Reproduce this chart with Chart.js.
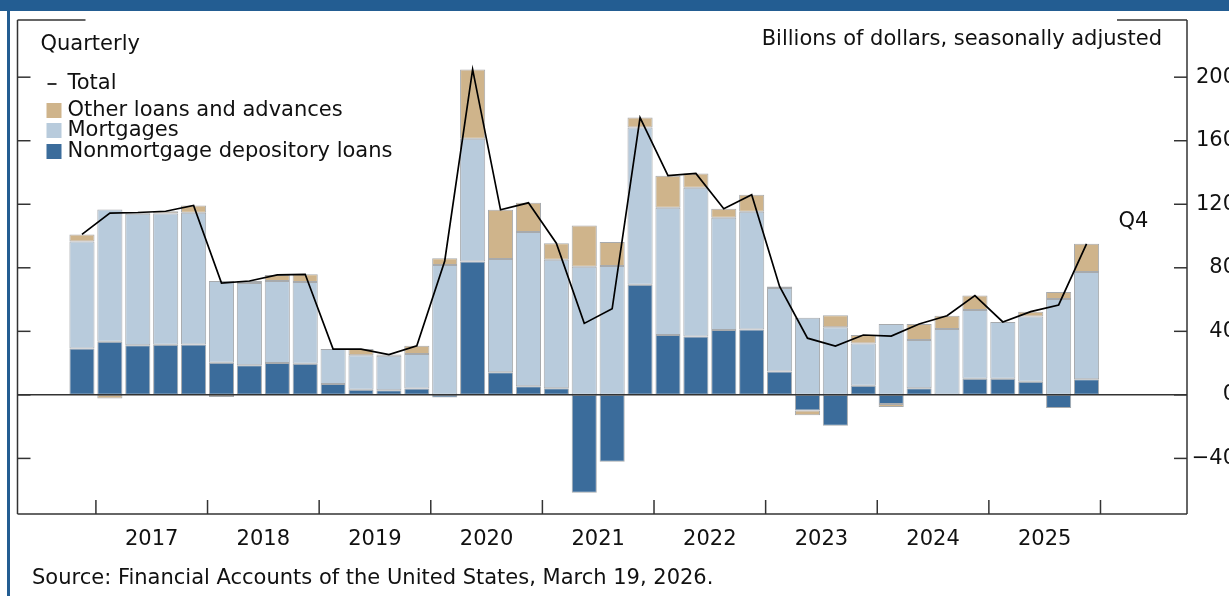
<!DOCTYPE html>
<html>
<head>
<meta charset="utf-8">
<script src="https://cdn.jsdelivr.net/npm/chart.js@4.4.1/dist/chart.umd.min.js"></script>
<style>
  html, body { margin: 0; padding: 0; background: #fff; overflow: hidden; }
  body { width: 1229px; height: 596px; position: relative; }
  #band { position: absolute; left: 0; top: 0; width: 1229px; height: 11px; background: #235d92; }
  #edge { position: absolute; left: 7px; top: 11px; width: 3px; height: 585px; background: #235d92; }
  #wrap { position: absolute; left: 0; top: 0; width: 1236px; height: 596px; }
  #source { position: absolute; left: 32px; top: 565px; font: 21px 'DejaVu Sans', sans-serif; color: #111; white-space: nowrap; }
</style>
</head>
<body>
<div id="band"></div>
<div id="edge"></div>
<div id="wrap"><canvas id="debtChart" width="1236" height="596"></canvas></div>
<div id="source">Source: Financial Accounts of the United States, March 19, 2026.</div>
<script>
const quarters = [
  '2016 Q4',
  '2017 Q1', '2017 Q2', '2017 Q3', '2017 Q4',
  '2018 Q1', '2018 Q2', '2018 Q3', '2018 Q4',
  '2019 Q1', '2019 Q2', '2019 Q3', '2019 Q4',
  '2020 Q1', '2020 Q2', '2020 Q3', '2020 Q4',
  '2021 Q1', '2021 Q2', '2021 Q3', '2021 Q4',
  '2022 Q1', '2022 Q2', '2022 Q3', '2022 Q4',
  '2023 Q1', '2023 Q2', '2023 Q3', '2023 Q4',
  '2024 Q1', '2024 Q2', '2024 Q3', '2024 Q4',
  '2025 Q1', '2025 Q2', '2025 Q3', '2025 Q4'
];
const years = ['2017', '2018', '2019', '2020', '2021', '2022', '2023', '2024', '2025'];

// billions of dollars, seasonally adjusted
const nonmortgage = [29.2,
  33.4, 31.3, 31.5, 31.7,
  20.2, 18.7, 20.0, 19.6,
  6.9, 3.2, 2.9, 4.0,
  -1.7, 83.9, 14.3, 5.5,
  4.2, -61.6, -42.1, 69.4,
  37.7, 36.8, 40.8, 41.2,
  14.7, -9.9, -19.4, 5.7,
  -5.7, 4.2, 0.0, 10.1,
  10.1, 8.2, -8.2, 9.9];
const mortgages = [67.3,
  83.3, 82.7, 82.7, 82.9,
  51.5, 51.8, 51.7, 51.5,
  21.9, 21.8, 21.7, 21.7,
  81.8, 77.4, 71.3, 97.1,
  80.8, 80.7, 81.2, 98.9,
  80.1, 93.6, 70.7, 74.1,
  52.6, 48.5, 42.6, 26.7,
  44.6, 30.3, 41.4, 43.3,
  35.8, 41.2, 60.4, 67.5];
const otherLoans = [4.5,
  -2.3, 0.8, 1.4, 4.6,
  -1.3, 1.2, 3.8, 4.8,
  0.0, 3.8, 0.8, 5.2,
  4.2, 43.6, 30.9, 18.3,
  10.5, 25.9, 15.1, 6.3,
  20.2, 9.0, 5.7, 10.7,
  1.0, -2.9, 7.5, 5.3,
  -1.9, 10.1, 8.4, 9.1,
  0.0, 3.0, 4.4, 17.7];
const totals = [101.0,
  114.4, 114.8, 115.6, 119.2,
  70.4, 71.7, 75.5, 75.9,
  28.8, 28.8, 25.4, 30.9,
  84.3, 204.9, 116.5, 120.9,
  95.5, 45.0, 54.2, 174.6,
  138.0, 139.4, 117.2, 126.0,
  68.3, 35.7, 30.7, 37.7,
  37.0, 44.6, 49.8, 62.5,
  45.9, 52.4, 56.6, 95.1];
const yTicks = [-40, 0, 40, 80, 120, 160, 200];

const FONT = "'DejaVu Sans', sans-serif";
const colNon = '#3b6c9b';
const colMort = '#b8cbdc';
const colOther = '#cfb48b';

const pts = arr => arr.map((v, i) => ({ x: i, y: v }));
const yearMid = years.map(yr => quarters.indexOf(yr + ' Q2') + 0.5);
const yearEdges = quarters.flatMap((q, i) => q.endsWith('Q4') ? [i + 0.5] : []);

function barSet(label, data, color) {
  return {
    type: 'bar', label, data: pts(data), backgroundColor: color,
    borderColor: 'rgba(95,100,105,0.55)', borderWidth: 1, borderSkipped: false,
    categoryPercentage: 1, barPercentage: 0.9, order: 2
  };
}

const frame = {
  id: 'frame',
  afterDatasetsDraw(chart) {
    const { ctx, chartArea: a, scales: { x, y } } = chart;
    const seg = (x1, y1, x2, y2) => { ctx.beginPath(); ctx.moveTo(x1, y1); ctx.lineTo(x2, y2); ctx.stroke(); };
    ctx.save();
    ctx.strokeStyle = '#333';
    ctx.lineWidth = 1.5;
    const y0 = y.getPixelForValue(0);
    seg(a.left, y0, a.right, y0);
    // box, top edge hidden behind the two header texts
    seg(a.left, a.top, a.left, a.bottom);
    seg(a.right, a.top, a.right, a.bottom);
    seg(a.left, a.bottom, a.right, a.bottom);
    seg(a.left, a.top, a.left + 68, a.top);
    seg(a.right - 70, a.top, a.right, a.top);
    yTicks.forEach(v => {
      const py = y.getPixelForValue(v);
      seg(a.left, py, a.left + 13, py);
      seg(a.right - 13, py, a.right, py);
    });
    yearEdges.forEach(v => {
      const px = x.getPixelForValue(v);
      seg(px, a.bottom, px, a.bottom - 14);
    });
    ctx.restore();
  },
  afterDraw(chart) {
    const { ctx, chartArea: a, scales: { x, y } } = chart;
    ctx.save();
    ctx.fillStyle = '#111';
    ctx.font = '21px ' + FONT;
    ctx.textBaseline = 'middle';
    ctx.textAlign = 'left';
    ctx.fillText('Quarterly', a.left + 23, a.top + 25);
    ctx.textAlign = 'right';
    ctx.fillText('Billions of dollars, seasonally adjusted', a.right - 25, a.top + 20);
    ctx.textAlign = 'left';
    // legend
    const lx = a.left + 29;
    ctx.strokeStyle = '#000';
    ctx.lineWidth = 1.6;
    ctx.beginPath(); ctx.moveTo(lx + 1, 84); ctx.lineTo(lx + 10, 84); ctx.stroke();
    ctx.fillText('Total', lx + 21, 84);
    const rows = [['Other loans and advances', colOther, 111], ['Mortgages', colMort, 131], ['Nonmortgage depository loans', colNon, 152]];
    rows.forEach(([t, c, cy]) => {
      ctx.fillStyle = c;
      ctx.fillRect(lx, cy - 8, 15, 15);
      ctx.fillStyle = '#111';
      ctx.fillText(t, lx + 21, cy);
    });
    const last = totals.length - 1;
    ctx.fillText('Q4', x.getPixelForValue(last) + 32, y.getPixelForValue(totals[last]) - 22);
    ctx.restore();
  }
};

new Chart(document.getElementById('debtChart'), {
  data: {
    datasets: [
      {
        type: 'line', label: 'Total', data: pts(totals), stack: 'total',
        borderColor: '#000', borderWidth: 1.7, pointRadius: 0, tension: 0, order: 0
      },
      barSet('Nonmortgage depository loans', nonmortgage, colNon),
      barSet('Mortgages', mortgages, colMort),
      barSet('Other loans and advances', otherLoans, colOther)
    ]
  },
  options: {
    responsive: false,
    devicePixelRatio: 1,
    animation: false,
    layout: { padding: { top: 20, left: 17.5, right: 0, bottom: 0 } },
    plugins: { legend: { display: false }, tooltip: { enabled: false } },
    scales: {
      x: {
        type: 'linear', stacked: true, offset: false, bounds: 'data', min: -2.31, max: 39.6,
        grid: { display: false }, border: { display: false },
        afterBuildTicks: s => { s.ticks = yearMid.map(v => ({ value: v })); },
        afterFit: s => { s.height = 82; },
        ticks: {
          autoSkip: false, maxRotation: 0, padding: 5, color: '#111',
          font: { family: FONT, size: 21 },
          callback: (v, i) => years[i]
        }
      },
      y: {
        position: 'right', stacked: true, min: -75, max: 236,
        grid: { display: false }, border: { display: false },
        afterBuildTicks: s => { s.ticks = yTicks.map(v => ({ value: v })); },
        afterFit: s => { s.width = 49; },
        ticks: {
          padding: 4, crossAlign: 'far', color: '#111',
          font: { family: FONT, size: 21 },
          callback: v => v < 0 ? '\u2212' + Math.abs(v) : String(v)
        }
      }
    }
  },
  plugins: [frame]
});
</script>
</body>
</html>
